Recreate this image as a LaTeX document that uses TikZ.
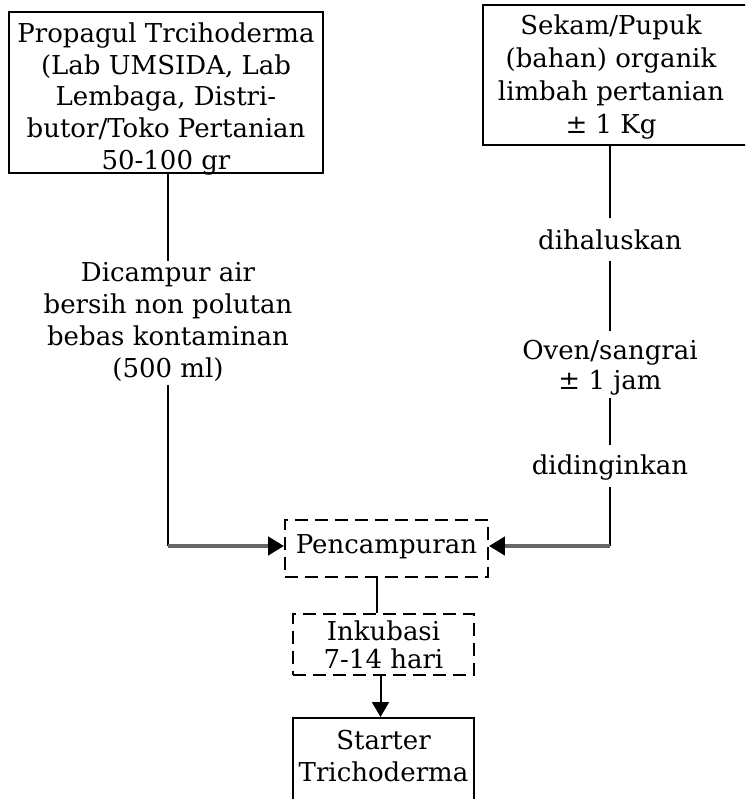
\documentclass[tikz,border=0pt]{standalone}
\usepackage{fontspec}
\setmainfont{DejaVu Serif}
\usetikzlibrary{arrows.meta}
\begin{document}
\begin{tikzpicture}[x=1pt,y=-1pt,
  every node/.style={align=center, inner sep=0pt},
  txt/.style={font=\fontsize{26}{32}\selectfont},
  solidbox/.style={draw, line width=2pt},
  dashbox/.style={draw, line width=1.8pt, dash pattern=on 13pt off 7pt},
  conn/.style={line width=2pt},
  feed/.style={line width=4pt, draw=black!60, -{Triangle[length=16pt,width=18pt,color=black]}},
  down/.style={line width=2pt, -{Triangle[length=15pt,width=17pt]}}]
\useasboundingbox (0,0) rectangle (745,799);
\clip (0,0) rectangle (745,799);
% boxes
\node[solidbox, minimum width=314pt, minimum height=161pt] (L) at (166,92.5) {};
\node[txt, font=\fontsize{26}{31.75}\selectfont] (Lt) at (166,99)
  {Propagul Trcihoderma\\(Lab UMSIDA, Lab\\Lembaga, Distri-\\butor/Toko Pertanian\\50-100 gr};
\node[solidbox, minimum width=267pt, minimum height=140pt] (R) at (616.5,75) {};
\node[txt, font=\fontsize{26}{33}\selectfont] (Rt) at (611,77)
  {Sekam/Pupuk\\(bahan) organik\\limbah pertanian\\± 1 Kg};
% intermediate texts
\node[txt] (D) at (168,321.5) {Dicampur air\\bersih non polutan\\bebas kontaminan\\(500 ml)};
\node[txt] (H) at (610,240) {dihaluskan};
\node[txt, font=\fontsize{26}{30}\selectfont] (O) at (610,367.5) {Oven/sangrai\\± 1 jam};
\node[txt] (G) at (610,468) {didinginkan};
% process boxes
\node[dashbox, minimum width=203pt, minimum height=57pt] (P) at (386.5,548.5) {};
\node[txt] (Pt) at (386.5,547) {Pencampuran};
\node[dashbox, minimum width=181pt, minimum height=61pt] (I) at (383.5,644.5) {};
\node[txt, font=\fontsize{26}{28}\selectfont] (It) at (383.5,645) {Inkubasi\\7-14 hari};
\node[solidbox, minimum width=181pt, minimum height=90pt, anchor=north] (S) at (383.5,717) {};
\node[txt] (St) at (383.5,756) {Starter\\Trichoderma};
% connectors
\draw[conn] (L.south -| D.north) -- ([yshift=1pt]D.north);
\draw[conn] ([yshift=-4pt]D.south) -- (168,546) coordinate (LC);
\draw[feed] (LC) -- (LC -| P.west);
\draw[conn] (R.south -| H.north) -- ([yshift=12pt]H.north);
\draw[conn] ([yshift=-11pt]H.south) -- ([yshift=9pt]O.north);
\draw[conn] ([yshift=-3pt]O.south) -- ([yshift=10pt]G.north);
\draw[conn] ([yshift=-6pt]G.south) -- (610,546) coordinate (RC);
\draw[feed] (RC) -- (RC -| P.east);
\draw[conn] ([xshift=-10pt]P.south) -- ([xshift=-7pt]I.north);
\draw[down] ([xshift=-3pt]I.south) -- ([xshift=-3pt]S.north);
\end{tikzpicture}
\end{document}
